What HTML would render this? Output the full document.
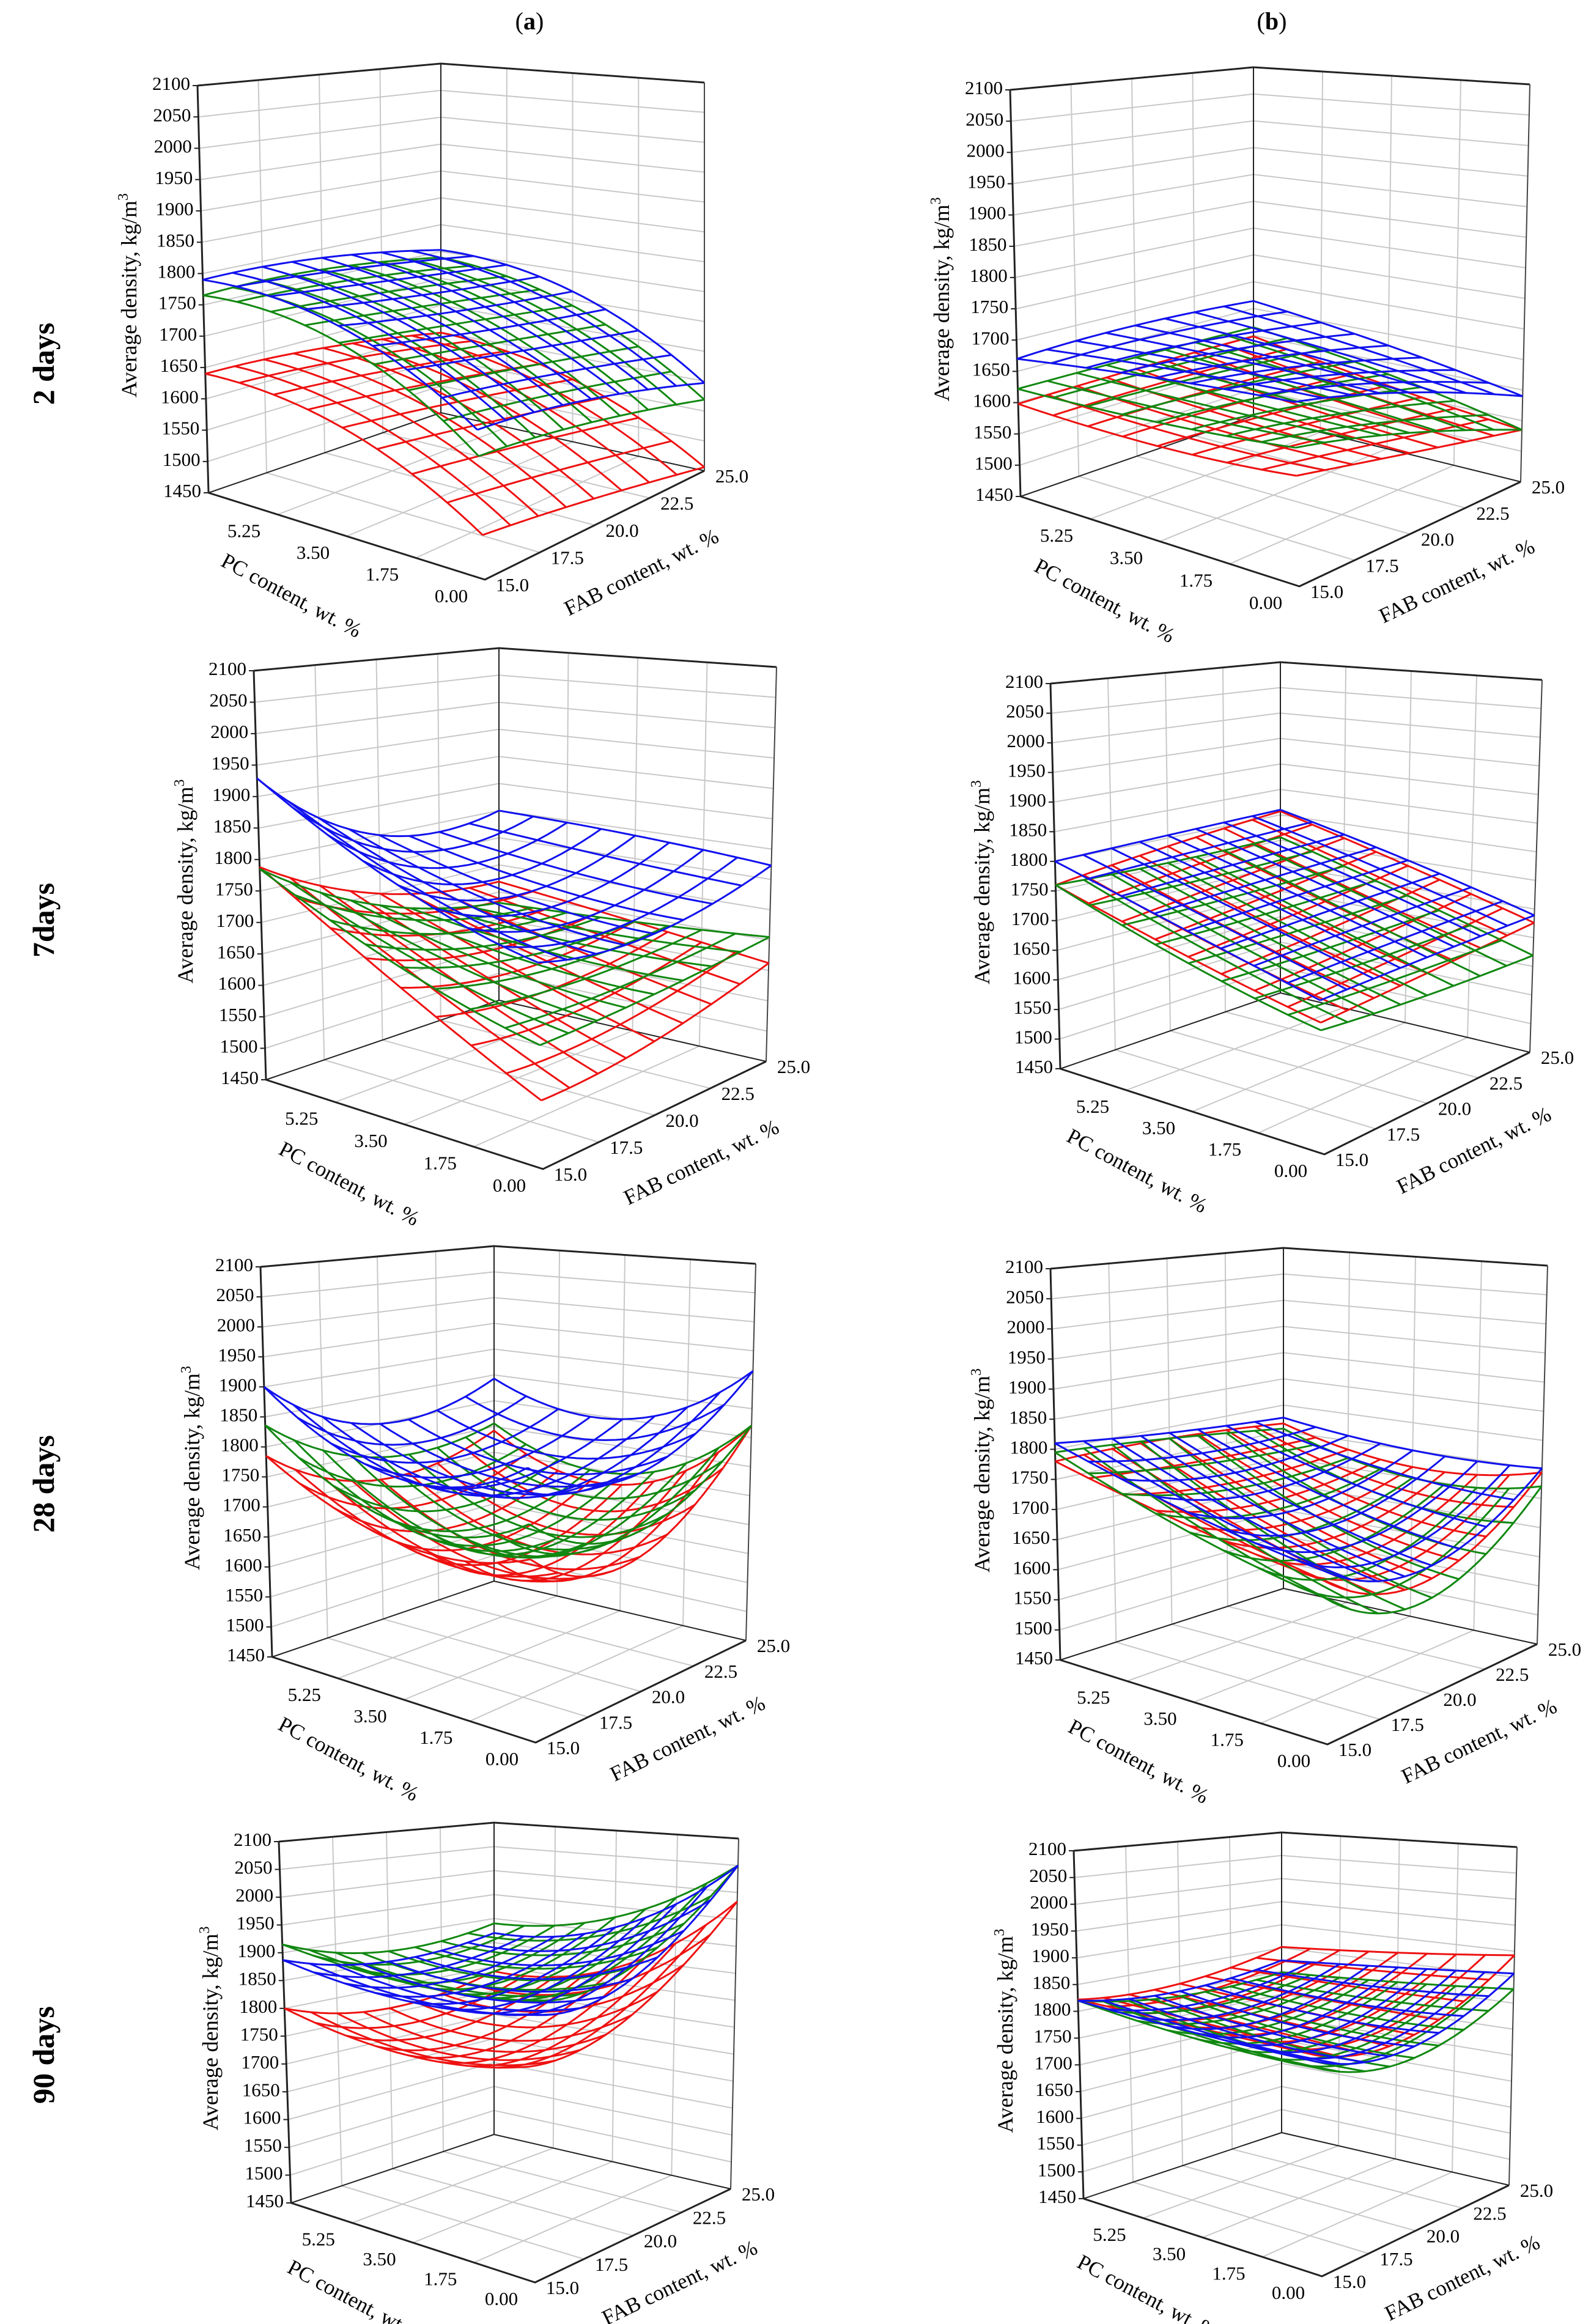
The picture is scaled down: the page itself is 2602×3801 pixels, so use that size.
<!DOCTYPE html>
<html><head><meta charset="utf-8"><style>
html,body{margin:0;padding:0;background:#fff;}
svg{display:block;}
text{font-family:"Liberation Serif",serif;fill:#000;}
</style></head><body>
<svg id="fig" width="2602" height="3801" viewBox="0 0 2602 3801" xmlns="http://www.w3.org/2000/svg">
<rect width="2602" height="3801" fill="#fff"/>
<text x="866" y="48" font-size="40" text-anchor="middle">(<tspan font-weight="bold">a</tspan>)</text>
<text x="2080" y="48" font-size="40" text-anchor="middle">(<tspan font-weight="bold">b</tspan>)</text>
<text transform="translate(88,595) rotate(-90)" font-size="50" font-weight="bold" text-anchor="middle">2 days</text>
<text transform="translate(88,1505) rotate(-90)" font-size="50" font-weight="bold" text-anchor="middle">7days</text>
<text transform="translate(88,2427) rotate(-90)" font-size="50" font-weight="bold" text-anchor="middle">28 days</text>
<text transform="translate(88,3361) rotate(-90)" font-size="50" font-weight="bold" text-anchor="middle">90 days</text>
</svg>
<script>
// Axis tick values
const zTicks = [1450,1500,1550,1600,1650,1700,1750,1800,1850,1900,1950,2000,2050,2100];
const pcTicks = [5.25,3.50,1.75,0.00];
const fabTicks = [15.0,17.5,20.0,22.5,25.0];
// Grid nodes of each surface: rows PC = 0, 3.5, 7 ; columns FAB = 15, 20, 25
const pcNodes = [0,3.5,7];
const fabNodes = [15,20,25];
// 2 days (a)
const a1Red   = [[1511,1490,1456],[1610,1590,1560],[1640,1630,1599]];
const a1Green = [[1619,1605,1569],[1735,1715,1690],[1765,1765,1739]];
const a1Blue  = [[1655,1640,1597],[1760,1735,1715],[1790,1785,1753]];
// 2 days (b)
const b1Red   = [[1600,1570,1535],[1590,1580,1560],[1598,1600,1598]];
const b1Green = [[1638,1600,1535],[1625,1610,1580],[1622,1620,1615]];
const b1Blue  = [[1700,1660,1590],[1690,1670,1630],[1670,1675,1664]];
// 7 days (a)
const a2Red   = [[1543,1560,1612],[1650,1620,1640],[1788,1700,1669]];
const a2Green = [[1618,1630,1655],[1680,1640,1640],[1785,1680,1630]];
const a2Blue  = [[1730,1720,1773],[1800,1740,1790],[1929,1800,1800]];
// 7 days (b)
const b2Red   = [[1639,1655,1676],[1690,1710,1740],[1760,1785,1807]];
const b2Green = [[1628,1620,1619],[1680,1680,1685],[1760,1755,1756]];
const b2Blue  = [[1671,1680,1689],[1730,1740,1750],[1800,1805,1810]];
// 28 days (a)
const a3Red   = [[1710,1660,1821],[1690,1610,1680],[1785,1700,1742]];
const a3Green = [[1760,1700,1821],[1720,1640,1700],[1836,1740,1756]];
const a3Blue  = [[1840,1790,1915],[1790,1740,1800],[1900,1800,1843]];
// 28 days (b)
const b3Red   = [[1683,1630,1745],[1720,1680,1720],[1780,1780,1765]];
const b3Green = [[1659,1600,1721],[1710,1660,1700],[1795,1780,1755]];
const b3Blue  = [[1697,1650,1752],[1740,1700,1750],[1810,1790,1776]];
// 90 days (a)
const a4Red   = [[1780,1820,1983],[1760,1740,1830],[1800,1760,1790]];
const a4Green = [[1880,1900,2050],[1880,1850,1930],[1915,1870,1890]];
const a4Blue  = [[1860,1880,2050],[1850,1830,1910],[1887,1850,1870]];
// 90 days (b)
const b4Red   = [[1800,1790,1892],[1810,1800,1870],[1822,1815,1852]];
const b4Green = [[1780,1750,1827],[1790,1755,1810],[1820,1790,1797]];
const b4Blue  = [[1790,1770,1857],[1800,1770,1840],[1820,1800,1823]];

const NS = 'http://www.w3.org/2000/svg';
const svg = document.getElementById('fig');
const panels = [
 {id:'a1', L:[341,806],  Lt:[323,140],  B:[721,675],  Bt:[721,104],  R:[1152,770], Rt:[1152,135], F:[793,948],  s:[a1Red,a1Green,a1Blue]},
 {id:'b1', L:[1669,812], Lt:[1652,147], B:[2050,680], Bt:[2050,110], R:[2487,788], Rt:[2502,138], F:[2125,959], s:[b1Red,b1Green,b1Blue]},
 {id:'a2', L:[435,1766], Lt:[415,1097], B:[816,1636], Bt:[816,1060], R:[1253,1736],Rt:[1270,1091],F:[888,1912], s:[a2Red,a2Green,a2Blue]},
 {id:'b2', L:[1734,1748],Lt:[1718,1118],B:[2094,1624],Bt:[2094,1083],R:[2502,1721],Rt:[2522,1112],F:[2166,1888],s:[b2Red,b2Green,b2Blue]},
 {id:'a3', L:[445,2710], Lt:[426,2072], B:[808,2586], Bt:[808,2038], R:[1220,2683],Rt:[1236,2067],F:[876,2850], s:[a3Red,a3Green,a3Blue]},
 {id:'b3', L:[1734,2715],Lt:[1718,2075],B:[2099,2598],Bt:[2099,2041],R:[2514,2689],Rt:[2531,2070],F:[2171,2853],s:[b3Red,b3Green,b3Blue]},
 {id:'a4', L:[476,3603], Lt:[456,3012], B:[808,3491], Bt:[808,2981], R:[1195,3580],Rt:[1208,3007],F:[875,3733], s:[a4Red,a4Green,a4Blue]},
 {id:'b4', L:[1772,3596],Lt:[1756,3027],B:[2096,3488],Bt:[2096,2997],R:[2468,3574],Rt:[2481,3021],F:[2162,3723],s:[b4Red,b4Green,b4Blue]}
];
const colors = ['#ee1111','#118811','#1111ee'];
const colorNames = ['red','green','blue'];

function bil(F,L,R,B,s,t){
  return [F[0]*(1-s)*(1-t)+L[0]*s*(1-t)+R[0]*(1-s)*t+B[0]*s*t,
          F[1]*(1-s)*(1-t)+L[1]*s*(1-t)+R[1]*(1-s)*t+B[1]*s*t];
}
function proj(p,pc,fab,z){
  const s=pc/7, t=(fab-15)/10;
  const Ft=[p.Lt[0]+p.Rt[0]-p.Bt[0], p.Lt[1]+p.Rt[1]-p.Bt[1]];
  const fl=bil(p.F,p.L,p.R,p.B,s,t), tp=bil(Ft,p.Lt,p.Rt,p.Bt,s,t);
  const f=(z-1450)/650;
  return [fl[0]+(tp[0]-fl[0])*f, fl[1]+(tp[1]-fl[1])*f];
}
function lag(nodes,x,k){
  let v=1; for(let m=0;m<3;m++){ if(m!==k) v*=(x-nodes[m])/(nodes[k]-nodes[m]); } return v;
}
function surf(g,pc,fab){
  let v=0;
  for(let i=0;i<3;i++) for(let j=0;j<3;j++) v+=g[i][j]*lag(pcNodes,pc,i)*lag(fabNodes,fab,j);
  return v;
}
function line(parent,pts,stroke,w){
  const el=document.createElementNS(NS,'polyline');
  el.setAttribute('points',pts.map(q=>q[0].toFixed(1)+','+q[1].toFixed(1)).join(' '));
  el.setAttribute('fill','none'); el.setAttribute('stroke',stroke); el.setAttribute('stroke-width',w);
  el.setAttribute('stroke-linejoin','round');
  parent.appendChild(el); return el;
}
function txt(parent,x,y,str,size,anchor,rot){
  const el=document.createElementNS(NS,'text');
  el.setAttribute('font-size',size); el.setAttribute('text-anchor',anchor||'middle');
  el.setAttribute('dominant-baseline','middle');
  el.setAttribute('transform','translate('+x.toFixed(1)+','+y.toFixed(1)+')'+(rot?' rotate('+rot+')':''));
  el.textContent=str; parent.appendChild(el); return el;
}

panels.forEach(p=>{
  const g=document.createElementNS(NS,'g');
  
  
  svg.appendChild(g);
  const grid=document.createElementNS(NS,'g');
  
  
  g.appendChild(grid);
  const gc='#c8c8c8';
  zTicks.forEach(z=>{
    if(z===1450||z===2100) return;
    line(grid,[proj(p,7,15,z),proj(p,7,25,z),proj(p,0,25,z)],gc,2);
  });
  [17.5,20,22.5].forEach(f=>{
    line(grid,[proj(p,7,f,1450),proj(p,7,f,2100)],gc,2);
    line(grid,[proj(p,0,f,1450),proj(p,7,f,1450)],gc,2);
  });
  [1.75,3.5,5.25].forEach(c=>{
    line(grid,[proj(p,c,25,1450),proj(p,c,25,2100)],gc,2);
    line(grid,[proj(p,c,15,1450),proj(p,c,25,1450)],gc,2);
  });
  const ax=document.createElementNS(NS,'g');
  
  
  g.appendChild(ax);
  line(ax,[proj(p,7,15,2100),proj(p,7,25,2100),proj(p,0,25,2100)],'#222',3);
  line(ax,[proj(p,7,25,1450),proj(p,7,25,2100)],'#222',2);
  line(ax,[proj(p,0,25,1450),proj(p,0,25,2100)],'#444',2);
  line(ax,[proj(p,7,15,1450),proj(p,7,15,2100)],'#222',3);
  line(ax,[proj(p,7,15,1450),proj(p,0,15,1450),proj(p,0,25,1450)],'#222',3);
  line(ax,[proj(p,7,15,1450),proj(p,7,25,1450),proj(p,0,25,1450)],'#222',2);
  zTicks.forEach(z=>{
    const q=proj(p,7,15,z);
    line(ax,[[q[0]-8,q[1]],q],'#222',2);
    const lb=txt(ax,q[0]-12,q[1],String(z),31,'end');
    
    
  });
  pcTicks.forEach(c=>{
    const q=proj(p,c,15,1450);
    const lb=txt(ax,q[0]-55,q[1]+30,c.toFixed(2),31,'middle');
    
    
  });
  fabTicks.forEach(f=>{
    const q=proj(p,0,f,1450);
    const lb=txt(ax,q[0]+45,q[1]+12,f.toFixed(1),31,'middle');
    
    
  });
  const zt=document.createElementNS(NS,'text');
  zt.setAttribute('font-size',36); zt.setAttribute('text-anchor','middle');
  zt.setAttribute('transform','translate('+(p.Lt[0]-100)+','+((p.Lt[1]+p.L[1])/2+10)+') rotate(-90)');
  zt.innerHTML='Average density, kg/m<tspan dy="-14" font-size="24">3</tspan>';
  
  
  ax.appendChild(zt);
  const lf=[(p.L[0]+p.F[0])/2,(p.L[1]+p.F[1])/2];
  const pt=txt(ax,lf[0]-92,lf[1]+100,'PC content, wt. %',35,'middle',28);
  
  
  const fr=[(p.F[0]+p.R[0])/2,(p.F[1]+p.R[1])/2];
  const ang=Math.atan2(p.R[1]-p.F[1],p.R[0]-p.F[0])*180/Math.PI;
  const ft=txt(ax,fr[0]+78,fr[1]+80,'FAB content, wt. %',35,'middle',ang);
  
  
  p.s.forEach((grd,k)=>{
    const sg=document.createElementNS(NS,'g');
    
    
    g.appendChild(sg);
    const N=8, M=24;
    for(let i=0;i<=N;i++){
      const pc=7*i/N, pts=[];
      for(let m=0;m<=M;m++){const fab=15+10*m/M; pts.push(proj(p,pc,fab,surf(grd,pc,fab)));}
      line(sg,pts,colors[k],3);
    }
    for(let j=0;j<=N;j++){
      const fab=15+10*j/N, pts=[];
      for(let m=0;m<=M;m++){const pc=7*m/M; pts.push(proj(p,pc,fab,surf(grd,pc,fab)));}
      line(sg,pts,colors[k],3);
    }
  });
});
</script>
</body></html>
